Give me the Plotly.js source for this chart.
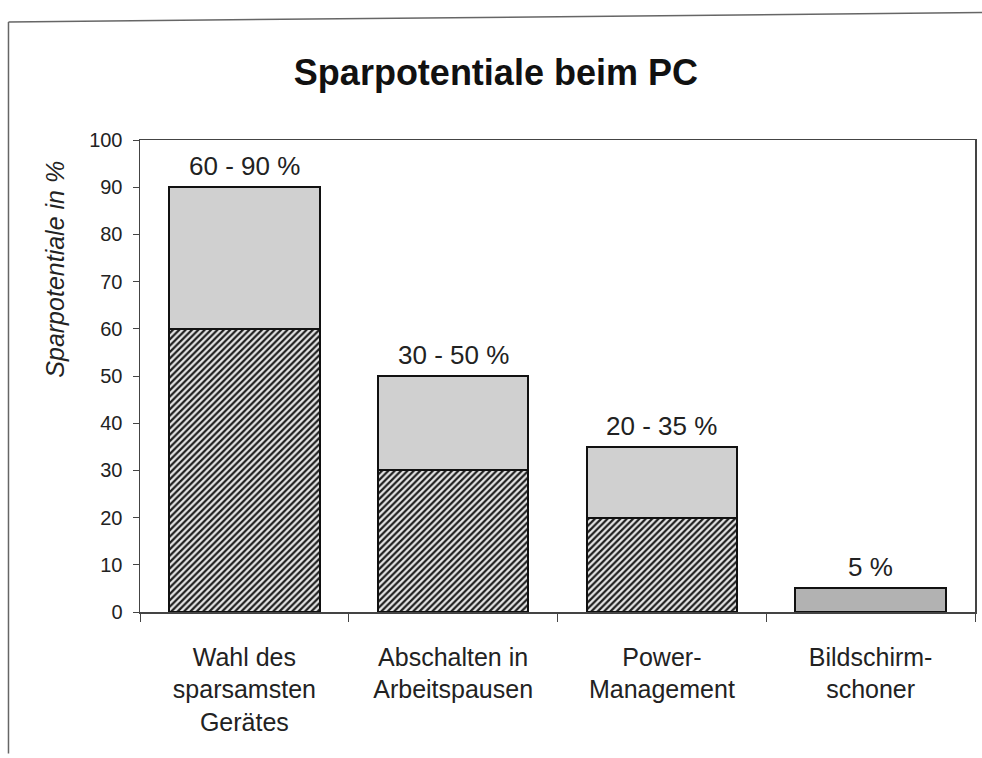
<!DOCTYPE html>
<html>
<head>
<meta charset="utf-8">
<script src="https://cdn.plot.ly/plotly-3.0.1.min.js"></script>
<style>body{margin:0;background:#fff}#chart{width:982px;height:758px}</style>
</head>
<body>
<div id="chart"></div>
<script>
const categories = ["Wahl des<br>sparsamsten<br>Gerätes", "Abschalten in<br>Arbeitspausen", "Power-<br>Management", "Bildschirm-<br>schoner"];
const baseValues = [60, 30, 20, 0];
const extraValues = [30, 20, 15, 5];
const rangeLabels = ["60 - 90 %", "30 - 50 %", "20 - 35 %", "5 %"];
const extraColors = ["#d0d0d0", "#d0d0d0", "#d0d0d0", "#b2b2b2"];

const font = "Liberation Sans, Arial, sans-serif";
const txt = "#222";

const traces = [
  {
    type: "bar", x: categories, y: baseValues, name: "min",
    marker: {
      color: "#ffffff",
      line: {color: "#111", width: 2},
      pattern: {shape: "/", fgcolor: "#1e1e1e", bgcolor: "#e8e8e8", size: 4.5, solidity: 0.5}
    },
    hoverinfo: "skip"
  },
  {
    type: "bar", x: categories, y: extraValues, name: "max",
    marker: {
      color: extraColors,
      line: {color: "#111", width: 2}
    },
    hoverinfo: "skip"
  }
];

const annotations = categories.map((c, i) => ({
  x: c, y: baseValues[i] + extraValues[i], xref: "x", yref: "y",
  text: rangeLabels[i], showarrow: false, yanchor: "bottom", yshift: 4,
  font: {family: font, size: 26, color: txt}
}));
annotations.push({
  xref: "paper", yref: "paper", x: -0.102, y: 0.727, xanchor: "center", yanchor: "middle",
  text: "<i>Sparpotentiale in %</i>", textangle: -90, showarrow: false,
  font: {family: font, size: 25, color: txt}
});

const layout = {
  width: 982, height: 758,
  paper_bgcolor: "#fff", plot_bgcolor: "#fff",
  margin: {l: 140, r: 7, t: 140, b: 146},
  barmode: "stack", bargap: 0.28,
  showlegend: false,
  title: {text: "<b>Sparpotentiale beim PC</b>", x: 0.505, xanchor: "center", y: 0.905, yanchor: "middle",
          font: {family: font, size: 36, color: "#111"}},
  xaxis: {
    type: "category", showline: true, linecolor: "#444", linewidth: 1.5, mirror: true,
    ticks: "outside", tickson: "boundaries", ticklen: 8, tickcolor: "#444",
    showgrid: false, ticklabelstandoff: 22,
    tickfont: {family: font, size: 25, color: txt}
  },
  yaxis: {
    range: [0, 100], dtick: 10, showline: true, linecolor: "#444", linewidth: 1.5, mirror: true,
    ticks: "outside", ticklen: 6, tickcolor: "#444", showgrid: false, zeroline: false,
    ticklabelstandoff: 6,
    tickfont: {family: font, size: 20, color: txt}
  },
  annotations: annotations,
  shapes: [
    {type: "line", xref: "paper", yref: "paper", x0: -0.1575, x1: -0.1575, y0: -0.3, y1: 1.25, line: {color: "#666", width: 1.5}},
    {type: "line", xref: "paper", yref: "paper", x0: -0.1575, x1: 1.01, y0: 1.25, y1: 1.27, line: {color: "#666", width: 1.5}}
  ]
};

Plotly.newPlot("chart", traces, layout, {displayModeBar: false, staticPlot: true});
</script>
</body>
</html>
